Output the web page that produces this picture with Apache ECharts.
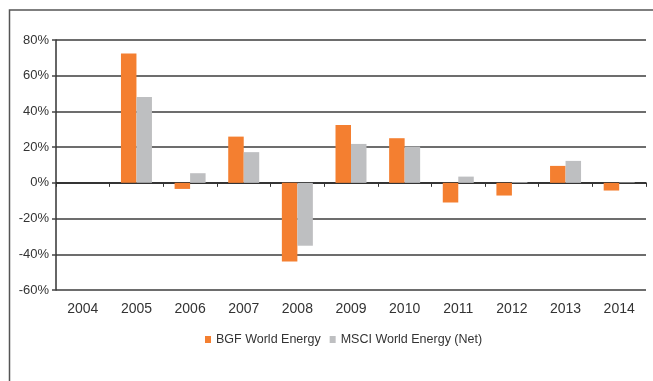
<!DOCTYPE html>
<html>
<head>
<meta charset="utf-8">
<script src="https://cdn.jsdelivr.net/npm/echarts@6/dist/echarts.min.js"></script>
<style>
  html, body { margin: 0; padding: 0; background: #fff; }
  #chart { width: 653px; height: 381px; }
</style>
</head>
<body>
<div id="chart"></div>
<script>
// Calendar-year returns (%)
const years = ['2004', '2005', '2006', '2007', '2008', '2009', '2010', '2011', '2012', '2013', '2014'];
const bgfWorldEnergy = [null, 72.5, -3.4, 25.9, -44.0, 32.4, 25.0, -11.0, -7.1, 9.5, -4.3];
const msciWorldEnergy = [null, 48.1, 5.4, 17.2, -35.2, 21.8, 20.3, 3.5, 0.4, 12.3, 0.3];
const seriesNames = ['BGF World Energy', 'MSCI World Energy (Net)'];

const FONT = '"Liberation Sans Narrow", "Liberation Sans", Arial, sans-serif';
const chart = echarts.init(document.getElementById('chart'), null, { renderer: 'canvas' });

chart.setOption({
  animation: false,
  backgroundColor: '#fff',
  textStyle: { fontFamily: FONT },
  grid: { left: 56, right: 7, top: 40, bottom: 91, containLabel: false },
  legend: {
    top: 328,
    left: 200,
    itemWidth: 6,
    itemHeight: 7,
    itemGap: 9,
    icon: 'rect',
    textStyle: { fontFamily: FONT, fontSize: 12.5, color: '#333' },
    data: seriesNames
  },
  xAxis: [
    {
      type: 'category',
      data: years,
      position: 'bottom',
      axisLine: { onZero: true, lineStyle: { color: '#222', width: 1.5 } },
      axisTick: { show: true, length: 4, lineStyle: { color: '#333', width: 1 } },
      axisLabel: { show: false },
      splitLine: { show: false }
    },
    {
      type: 'category',
      data: years,
      position: 'bottom',
      axisLine: { show: false, onZero: false },
      axisTick: { show: false },
      axisLabel: { show: true, margin: 12, fontFamily: FONT, fontSize: 14, color: '#333' },
      splitLine: { show: false }
    }
  ],
  yAxis: {
    type: 'value',
    min: -60,
    max: 80,
    interval: 20,
    axisLine: { show: true, lineStyle: { color: '#333', width: 1.5 } },
    axisTick: { show: true, length: 4, lineStyle: { color: '#444', width: 1.5 } },
    axisLabel: { formatter: '{value}%', fontFamily: FONT, fontSize: 13, color: '#333', margin: 7 },
    splitLine: { show: true, lineStyle: { color: '#3c3c3c', width: 1.5 } }
  },
  series: [
    {
      name: seriesNames[0],
      type: 'bar',
      xAxisIndex: 0,
      data: bgfWorldEnergy,
      itemStyle: { color: '#F47F30' },
      barWidth: 15.5,
      barGap: '0%'
    },
    {
      name: seriesNames[1],
      type: 'bar',
      xAxisIndex: 0,
      data: msciWorldEnergy,
      itemStyle: { color: '#BEBFC1' },
      barWidth: 15.5,
      barGap: '0%'
    }
  ],
  graphic: [
    {
      type: 'polyline',
      shape: { points: [[9.5, 381], [9.5, 10], [653, 10]] },
      style: { stroke: '#555', lineWidth: 1.5, fill: null },
      silent: true
    }
  ]
});
</script>
</body>
</html>
